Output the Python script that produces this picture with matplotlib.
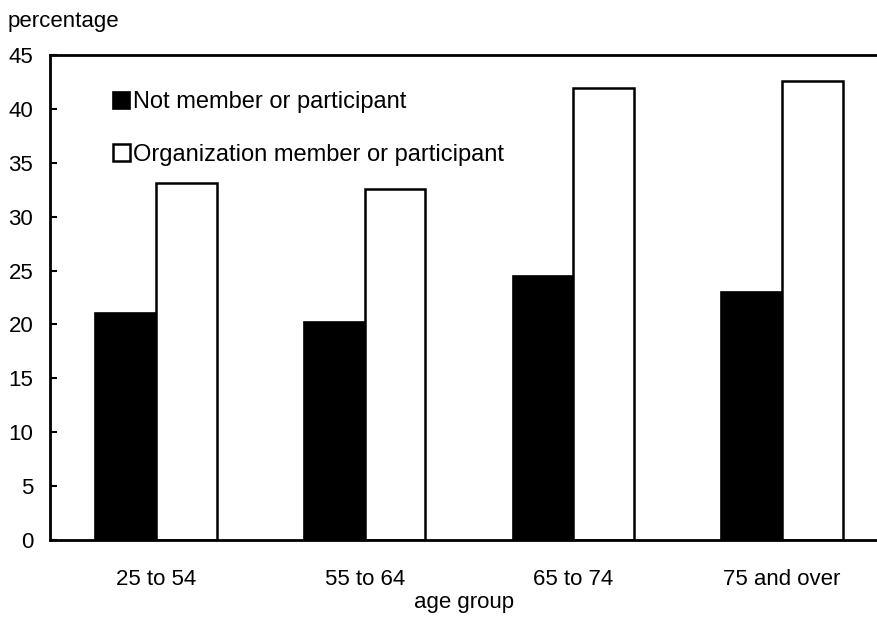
import numpy as np
import matplotlib.pyplot as plt

plt.rcParams['font.family'] = ['Liberation Sans', 'DejaVu Sans']

groups = ['25 to 54', '55 to 64', '65 to 74', '75 and over']
not_member = [21.1, 20.2, 24.5, 23.0]
member = [33.1, 32.6, 41.9, 42.6]

fig = plt.figure(figsize=(8.78, 6.18), dpi=100)
ax = fig.add_axes([50 / 878, 1 - 540 / 618, 1 - 50 / 878, (540 - 55) / 618])

x = np.arange(len(groups))
w = 0.29
ax.bar(x - w / 2, not_member, w, color='black', edgecolor='black', linewidth=1.2,
       label='Not member or participant')
ax.bar(x + w / 2, member, w, color='white', edgecolor='black', linewidth=1.8,
       label='Organization member or participant')

ax.set_xlim(-0.508, 3.46)
ax.set_ylim(0, 45)
ax.set_yticks(range(0, 46, 5))
ax.set_xticks(x)
ax.set_xticklabels(groups)
ax.tick_params(axis='y', direction='in', length=5, width=1.5, labelsize=16, pad=12)
ax.tick_params(axis='x', length=0, labelsize=16, pad=21)
for s in ['left', 'top', 'bottom']:
    ax.spines[s].set_linewidth(2)
ax.spines['right'].set_visible(False)

ax.set_xlabel('age group', fontsize=16, labelpad=1)
fig.text(8 / 878, 1 - 22 / 618, 'percentage', fontsize=16, va='center', ha='left')

ax.legend(loc='upper left', bbox_to_anchor=(0.076, 0.925), frameon=False, fontsize=17,
          handlelength=0.72, handleheight=0.72, handletextpad=0.14, labelspacing=1.3,
          borderaxespad=0, borderpad=0)

fig.savefig('out.png', dpi=100)
